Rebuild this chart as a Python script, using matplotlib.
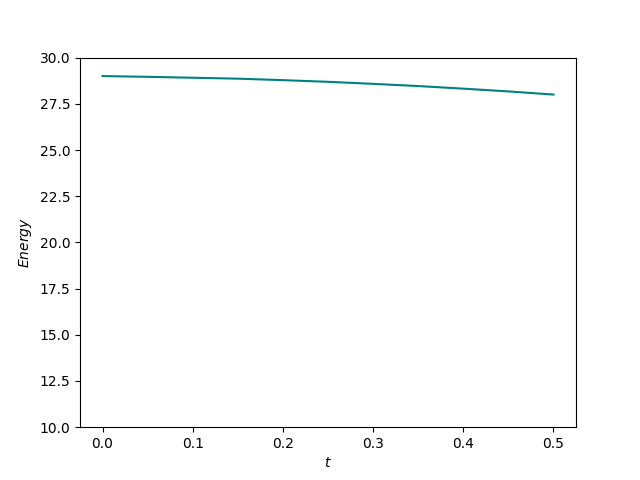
import numpy as np
import matplotlib
matplotlib.use('Agg')
import matplotlib.pyplot as plt

# valeurs
t = [0.0, 0.05, 0.1, 0.15, 0.2, 0.25, 0.3, 0.35, 0.4, 0.45, 0.5]
energy = [29.0, 28.96, 28.91, 28.86, 28.78, 28.69, 28.58, 28.46, 28.32, 28.17, 28.0]

fig, ax = plt.subplots(figsize=(6.4, 4.8), dpi=100)
ax.plot(t, energy, color='teal')
ax.set_ylim(10, 30)
ax.set_xlabel('$t$')
ax.set_ylabel('$Energy$')

plt.savefig('out.png', dpi=100)
plt.close()
